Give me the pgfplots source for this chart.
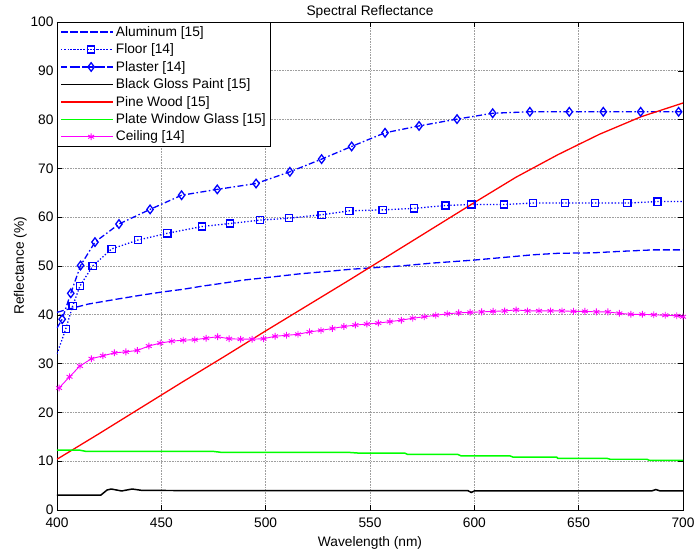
\documentclass[border=0pt]{standalone}
\usepackage{pgfplots}
\pgfplotsset{compat=1.18}
\usepackage{fontspec}
\setmainfont{Liberation Sans}
\definecolor{mblue}{RGB}{0,0,255}
\definecolor{mred}{RGB}{255,0,0}
\definecolor{mgreen}{RGB}{0,255,0}
\definecolor{mmag}{RGB}{255,0,255}
\begin{document}
\begin{tikzpicture}
\begin{axis}[
  name=ax,
  scale only axis,
  width=626bp, height=488bp,
  xmin=400, xmax=700, ymin=0, ymax=100,
  xtick={400,450,...,700},
  ytick={0,10,...,100},
  tick align=inside,
  xtick pos=both, ytick pos=both,
  major tick length=5bp,
  tick style={black, line width=0.5pt},
  axis line style={black, line width=0.8pt},
  grid=major,
  major grid style={gray!75, line width=0.6pt, densely dotted},
  font=\fontsize{13.8}{16}\selectfont,
  tick label style={font=\fontsize{13.8}{16}\selectfont},
  /pgf/number format/assume math mode=true,
  /pgf/number format/1000 sep={},
  xticklabel style={yshift=-4bp},
  xlabel={Wavelength (nm)},
  ylabel={Reflectance (\%)},
  title={Spectral Reflectance},
  title style={inner sep=1.5bp, yshift=-4bp},
  xlabel style={yshift=-2bp},
  ylabel style={yshift=-3bp},
  legend cell align=left,
  legend style={at={(0,1)}, anchor=north west, draw=black, line width=0.8pt,
    font=\fontsize{13.8}{16}\selectfont, inner xsep=3bp, inner ysep=2bp,
    row sep=2bp, fill=white},
  legend image code/.code={\path (0bp,0bp) -- (52bp,0bp);\draw[#1,mark indices={2}] plot coordinates {(9bp,0bp) (30bp,0bp) (51bp,0bp)};},
]
% Aluminum
\addplot[mblue, line width=1.3pt, dash pattern=on 7bp off 3bp] coordinates {
(400,40.5)(402.4,40.8)(407.7,41.4)(415,42.2)(428.6,43.2)(440,44.0)(450.8,44.7)
(460,45.2)(470,45.9)(480,46.5)(489,47.1)(500,47.6)(516.4,48.4)(530,48.9)(540,49.3)
(550,49.6)(564.4,50.0)(580,50.6)(599.5,51.2)(610,51.6)(628.2,52.3)(640,52.6)
(657,52.7)(670,53.0)(685.7,53.3)(700,53.3)};
\addlegendentry{Aluminum [15]}
% Floor
\addplot[mblue, line width=1.3pt, dotted, mark=square, mark size=3.6pt,
  mark options={solid, line width=1.3pt}, mark indices={2,...,24}] coordinates {
(400,32.0)(404.2,37.1)(407.5,41.8)(411,45.9)(417.1,50.0)(426.2,53.5)(438.7,55.3)
(452.9,56.7)(469.6,58.1)(482.9,58.7)(497.3,59.4)(511.2,59.8)(526.8,60.5)(540.1,61.3)
(556.1,61.5)(571,61.8)(586.2,62.4)(598.6,62.6)(614.3,62.6)(628.2,62.9)(643.4,62.9)
(657.8,62.9)(673.3,62.9)(687.8,63.2)(700,63.2)};
\addlegendentry{Floor [14]}
% Plaster
\addplot[mblue, line width=1.3pt, dash pattern=on 6bp off 2.5bp on 1.5bp off 2.5bp,
  mark=diamond, mark size=4.3pt,
  mark options={solid, line width=1.3pt}, mark indices={2,...,22}] coordinates {
(400,37.3)(402.5,39.1)(406.6,44.4)(411.3,50.1)(418.2,54.9)(429.7,58.6)(444.6,61.6)
(459.7,64.5)(476.8,65.7)(495.4,66.9)(511.6,69.3)(526.8,71.9)(541.2,74.5)(557.2,77.3)
(573.5,78.7)(591.7,80.1)(608.8,81.3)(626.6,81.6)(645.5,81.6)(661.8,81.6)(679.7,81.6)
(697.9,81.6)(700,81.6)};
\addlegendentry{Plaster [14]}
% Black Gloss Paint
\addplot[black, line width=1.5pt] coordinates {
(400,3.05)(421,3.05)(424,4.1)(426,4.3)(431,3.9)(436,4.3)(441,4.0)(597,3.95)
(598.5,3.6)(600,3.9)(685,3.9)(687,4.2)(689,3.9)(700,3.9)};
\addlegendentry{Black Gloss Paint [15]}
% Pine Wood
\addplot[mred, line width=1.3pt] coordinates {
(400,10.4)(420,15.6)(440,20.9)(460,26.2)(480,31.4)(500,36.7)(520,41.9)(540,47.1)
(560,52.4)(580,57.7)(600,63.0)(620,68.2)(640,72.8)(660,77.0)(680,80.6)(700,83.4)};
\addlegendentry{Pine Wood [15]}
% Plate Window Glass
\addplot[mgreen, line width=1.5pt] coordinates {
(400,12.25)(411,12.25)(414,12.0)(475,12.0)(479,11.8)(540,11.8)(545,11.65)(566.7,11.65)
(568,11.4)(592,11.4)(593.6,11.1)(617,11.1)(618.5,10.85)(639.4,10.85)(640,10.6)
(663.5,10.6)(665,10.4)(682.7,10.4)(684,10.15)(700,10.15)};
\addlegendentry{Plate Window Glass [15]}
% Ceiling
\addplot[mmag, line width=0.9pt, mark=asterisk, mark size=3.4pt] coordinates {
(401,25.0)(406,27.3)(411,29.5)(416.5,31.0)(422,31.6)(427.5,32.2)(433,32.4)
(438.5,32.7)(444,33.6)(449.5,34.2)(455,34.6)(460.5,34.8)(466,34.9)(471.5,35.2)
(477,35.5)(482.5,35.1)(488,35.0)(493.5,35.0)(499,35.1)(504.5,35.6)(510,35.8)
(515.5,36.0)(521,36.5)(526.5,36.8)(532,37.2)(537.5,37.6)(543,37.9)(548.5,38.1)
(554,38.3)(559.5,38.6)(565,38.9)(570.5,39.3)(576,39.6)(581.5,39.9)(587,40.2)
(592.5,40.4)(598,40.5)(603.5,40.6)(609,40.7)(614.5,40.8)(620,41.0)(625.5,40.8)
(631,40.8)(636.5,40.8)(642,40.8)(647.5,40.7)(653,40.7)(658.5,40.6)(664,40.6)
(669.5,40.3)(675,40.1)(680.5,40.1)(686,40.0)(691.5,39.9)(697,39.8)(700,39.6)};
\addlegendentry{Ceiling [14]}
\end{axis}
\pgfresetboundingbox
\path[use as bounding box] ([xshift=-57bp,yshift=-44bp]ax.south west) rectangle ([xshift=13bp,yshift=22bp]ax.north east);
\end{tikzpicture}
\end{document}
